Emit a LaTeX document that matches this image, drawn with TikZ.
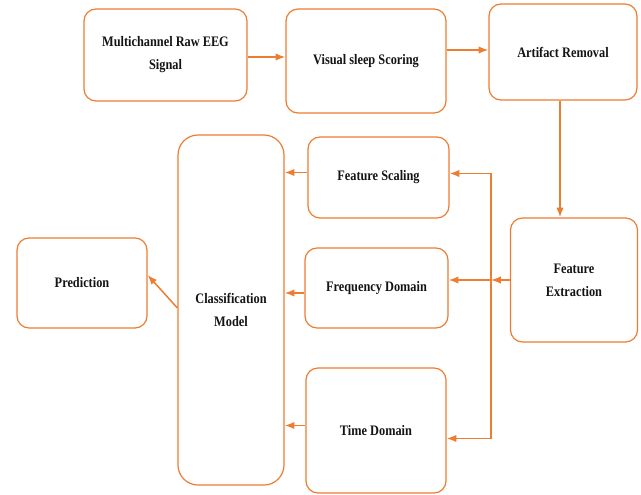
\documentclass[tikz,border=0pt]{standalone}
\usepackage{fontspec}
\setmainfont[FakeStretch=0.85]{Liberation Serif}
\usetikzlibrary{arrows.meta, positioning}
\definecolor{FlowOrange}{RGB}{237, 125, 49}
\definecolor{FlowBlack}{RGB}{20, 20, 20}

\begin{document}
\begin{tikzpicture}[
    x=1pt, y=-1pt,
    >=LaTeX,
    % Define styles for the elements
    process box/.style={
        rectangle,
        rounded corners=12pt,
        draw=FlowOrange,        % Orange outline
        fill=white,
        line width=1.2pt,
        align=center,
        text=FlowBlack,
        font=\bfseries\fontsize{14.5}{23}\selectfont
    },
    model box/.style={
        process box,
        rounded corners=20pt
    },
    flow line/.style={
        ->,
        line width=1.5pt,
        color=FlowOrange
    }
]
    \useasboundingbox (0,0) rectangle (641,495);

    % --- Top row ---
    \node[process box, minimum width=163pt, minimum height=92pt] (eeg) at (165.5, 55) {Multichannel Raw EEG\\Signal};
    \node[process box, minimum width=160pt, minimum height=104pt] (scoring) at (366, 61) {Visual sleep Scoring};
    \node[process box, minimum width=148pt, minimum height=96pt] (artifact) at (563, 52) {Artifact Removal};

    % --- Right column ---
    \node[process box, minimum width=127pt, minimum height=124pt] (fext) at (574, 280) {Feature\\Extraction};

    % --- Feature branches ---
    \node[process box, minimum width=141pt, minimum height=81pt] (scaling) at (378.5, 177.5) {Feature Scaling};
    \node[process box, minimum width=143pt, minimum height=80pt] (freq) at (376.5, 288) {Frequency Domain};
    \node[process box, minimum width=140pt, minimum height=125pt] (time) at (376, 430.5) {Time Domain};

    % --- Model and output ---
    \node[model box, minimum width=106pt, minimum height=350pt] (model) at (231, 310) {Classification\\Model};
    \node[process box, minimum width=130pt, minimum height=90pt] (pred) at (82, 283) {Prediction};

    % --- Connections ---
    \draw[flow line] ([yshift=-2pt]eeg.east) -- ([yshift=-2pt]eeg.east -| scoring.west);
    \draw[flow line] ([yshift=2pt]scoring.east |- artifact.west) -- ([yshift=2pt]artifact.west);
    \draw[flow line] ([xshift=-3pt]artifact.south) -- ([xshift=-3pt]artifact.south |- fext.north);

    % Bus from feature extraction
    \coordinate (bus) at (491, 280);
    \draw[flow line] (fext.west) -- (bus);
    \draw[flow line] (bus) -- (bus -| freq.east);
    \draw[flow line] (bus) |- ([yshift=4pt]scaling.east);
    \draw[flow line] (bus) |- ([yshift=-8pt]time.east);

    % Into the classifier
    \draw[flow line] ([yshift=5pt]scaling.west) -- ([yshift=5pt]scaling.west -| model.east);
    \draw[flow line] ([yshift=-5pt]freq.west) -- ([yshift=-5pt]freq.west -| model.east);
    \draw[flow line] ([yshift=5pt]time.west) -- ([yshift=5pt]time.west -| model.east);

    % To the prediction
    \draw[flow line] ([yshift=2pt]model.west) -- ([yshift=8pt]pred.east);

\end{tikzpicture}
\end{document}
